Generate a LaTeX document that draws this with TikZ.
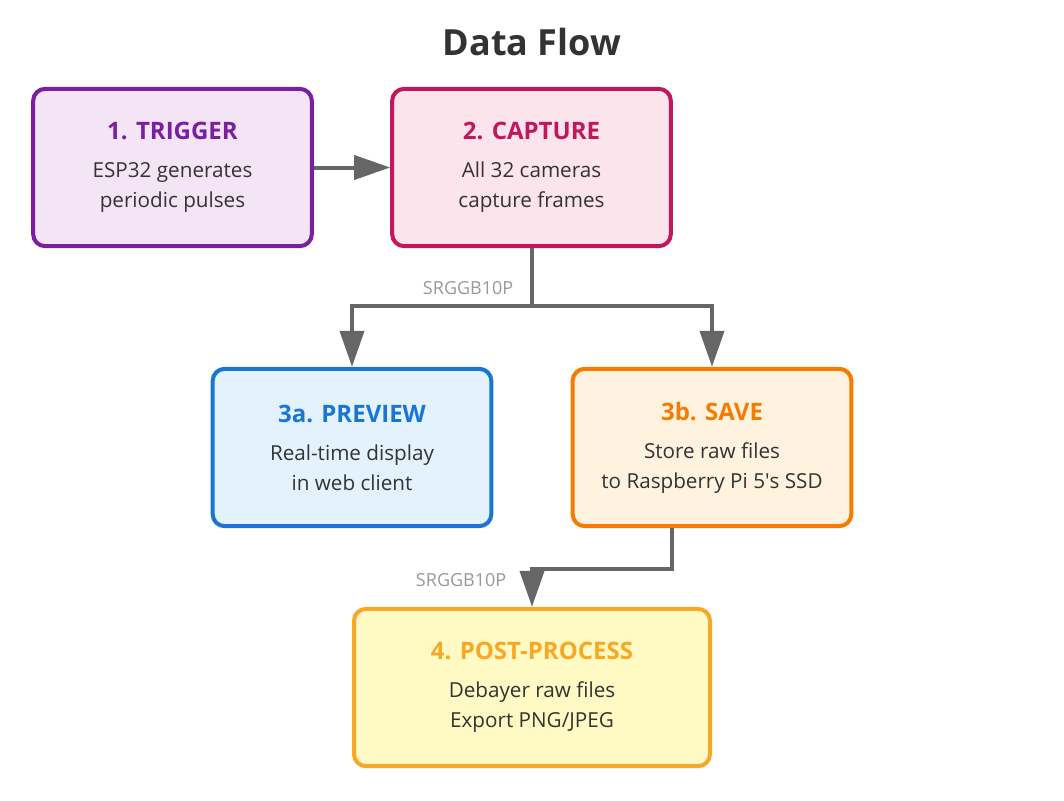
\documentclass[tikz,border=0pt]{standalone}
\usepackage{fontspec}
\setmainfont{Open Sans}
\usepackage{tikz}
\usetikzlibrary{positioning, arrows.meta}

\definecolor{ink}{HTML}{333333}
\definecolor{wire}{HTML}{666666}
\definecolor{tagc}{HTML}{999999}
\definecolor{trigD}{HTML}{7B1FA2}\definecolor{trigL}{HTML}{F3E5F5}
\definecolor{captD}{HTML}{C2185B}\definecolor{captL}{HTML}{FCE4EC}
\definecolor{prevD}{HTML}{1976D2}\definecolor{prevL}{HTML}{E3F2FD}
\definecolor{saveD}{HTML}{F57C00}\definecolor{saveL}{HTML}{FFF3E0}
\definecolor{postD}{HTML}{F9A825}\definecolor{postL}{HTML}{FFF9C4}

\newcommand{\stagehead}[2]{{\color{#1}\bfseries\fontsize{18}{21}\selectfont #2}\\[6pt]}

\tikzset{
	stage/.style={draw, rounded corners=9pt, line width=3pt, minimum width=209pt, minimum height=118pt,
		align=center, text=ink, font=\fontsize{15.5}{22.5}\selectfont},
	flow/.style={draw=wire, line width=3pt, -{Triangle[length=27pt,width=18pt]}},
	tag/.style={text=tagc, font=\fontsize{13.5}{15}\selectfont, anchor=east}
}

\begin{document}
\begin{tikzpicture}[x=0.75pt, y=-0.75pt]
	\useasboundingbox (0,0) rectangle (1064,800);
	\node[text=ink, font=\bfseries\fontsize{27}{32}\selectfont] (title) at (532,42) {Data Flow};
	
	\node[stage, draw=trigD, fill=trigL] (trigger) at (172.5,167.5) {\stagehead{trigD}{1. TRIGGER}ESP32 generates\\periodic pulses};
	\node[stage, draw=captD, fill=captL] (capture) at (531.5,167.5) {\stagehead{captD}{2. CAPTURE}All 32 cameras\\capture frames};
	\node[stage, draw=prevD, fill=prevL] (preview) at (352,447.5) {\stagehead{prevD}{3a. PREVIEW}Real-time display\\in web client};
	\node[stage, draw=saveD, fill=saveL] (save) at (712,447.5) {\stagehead{saveD}{3b. SAVE}Store raw files\\to Raspberry Pi 5\textquotesingle s SSD};
	\node[stage, draw=postD, fill=postL, minimum width=267pt] (post) at (532,687.5) {\stagehead{postD}{4. POST-PROCESS}Debayer raw files\\Export PNG/JPEG};
	
	\coordinate (split) at (531.5,306);
	\coordinate (savedrop) at ([xshift=-30pt]save.south);
	
	\draw[flow] (trigger) -- (capture);
	\draw[draw=wire, line width=3pt] (capture.south) -- (split);
	\draw[flow] (split) -| (preview.north);
	\draw[flow] (split) -| (save.north);
	\draw[flow] (savedrop) |- ++(-140,41) -- (post.north);
	
	\node[tag] (tag1) at (518,288) {SRGGB10P};
	\node[tag] (tag2) at (511,580) {SRGGB10P};
\end{tikzpicture}
\end{document}
